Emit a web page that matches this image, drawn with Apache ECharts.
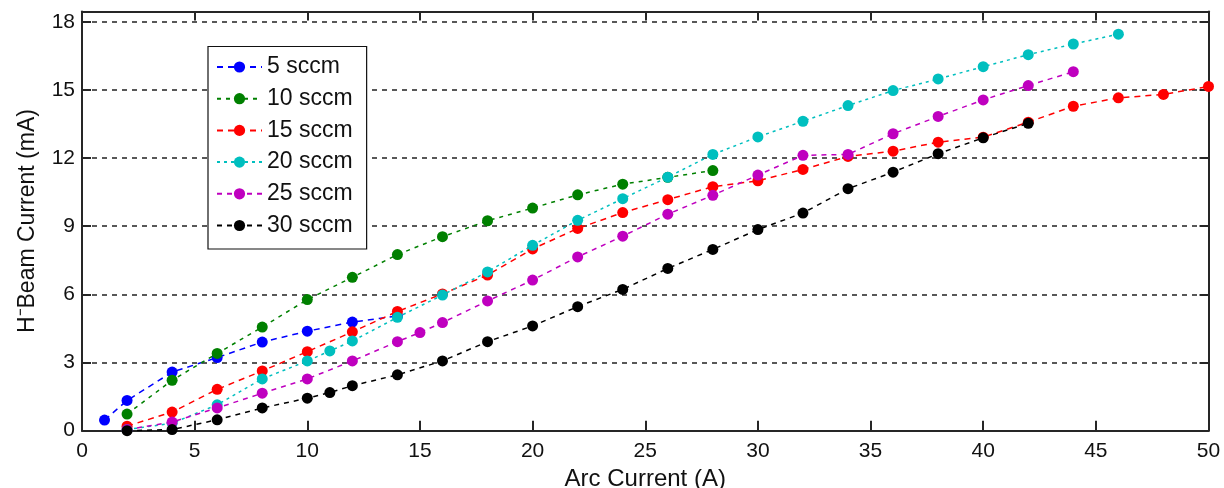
<!DOCTYPE html>
<html>
<head>
<meta charset="utf-8">
<script src="https://cdn.jsdelivr.net/npm/echarts@6/dist/echarts.min.js"></script>
<style>
  html, body { margin: 0; padding: 0; background: #fff; }
  #chart { width: 1224px; height: 488px; }
</style>
</head>
<body>
<div id="chart"></div>
<script>
// Beam current versus arc current for six gas flow rates
const xTicks = [0, 5, 10, 15, 20, 25, 30, 35, 40, 45, 50];
const yTicks = [0, 3, 6, 9, 12, 15, 18];

const x5 = [1, 2, 4, 6, 8, 10, 12, 14];
const y5 = [0.47, 1.33, 2.58, 3.22, 3.9, 4.38, 4.78, 5.05];

const x10 = [2, 4, 6, 8, 10, 12, 14, 16, 18, 20, 22, 24, 26, 28];
const y10 = [0.73, 2.22, 3.4, 4.56, 5.77, 6.75, 7.75, 8.54, 9.24, 9.8, 10.38, 10.85, 11.15, 11.45];

const x15 = [2, 4, 6, 8, 10, 12, 14, 16, 18, 20, 22, 24, 26, 28, 30, 32, 34, 36, 38, 40, 42, 44, 46, 48, 50];
const y15 = [0.2, 0.82, 1.82, 2.63, 3.48, 4.35, 5.25, 6.02, 6.85, 8.0, 8.9, 9.6, 10.17, 10.74, 11.0, 11.5, 12.07, 12.3, 12.7, 12.92, 13.58, 14.28, 14.65, 14.8, 15.15];

const x20 = [2, 4, 6, 8, 10, 11, 12, 14, 16, 18, 20, 22, 24, 26, 28, 30, 32, 34, 36, 38, 40, 42, 44, 46];
const y20 = [0.05, 0.33, 1.14, 2.28, 3.07, 3.51, 3.95, 4.99, 5.97, 6.99, 8.16, 9.26, 10.21, 11.16, 12.16, 12.93, 13.62, 14.31, 14.97, 15.48, 16.02, 16.55, 17.02, 17.45];

const x25 = [2, 4, 6, 8, 10, 12, 14, 15, 16, 18, 20, 22, 24, 26, 28, 30, 32, 34, 36, 38, 40, 42, 44];
const y25 = [0.05, 0.38, 1.0, 1.65, 2.28, 3.07, 3.92, 4.32, 4.76, 5.71, 6.63, 7.65, 8.56, 9.53, 10.36, 11.25, 12.12, 12.16, 13.07, 13.83, 14.56, 15.19, 15.8];

const x30 = [2, 4, 6, 8, 10, 11, 12, 14, 16, 18, 20, 22, 24, 26, 28, 30, 32, 34, 36, 38, 40, 42];
const y30 = [0, 0.05, 0.48, 1.0, 1.43, 1.68, 1.98, 2.46, 3.07, 3.92, 4.61, 5.46, 6.22, 7.14, 7.98, 8.85, 9.58, 10.65, 11.38, 12.19, 12.89, 13.53];

const seriesNames = ['5 sccm', '10 sccm', '15 sccm', '20 sccm', '25 sccm', '30 sccm'];
const seriesColors = ['#0000ff', '#008000', '#ff0000', '#00bfbf', '#bf00bf', '#000000'];
const seriesDash = [[6, 5], [4, 5], [6, 5], [3, 4], [5, 5], [5, 5]];
const xs = [x5, x10, x15, x20, x25, x30];
const ys = [y5, y10, y15, y20, y25, y30];

const FONT = 'Liberation Sans, Arial, sans-serif';
const AXIS_COLOR = '#262626';
const TEXT_COLOR = '#111';

const pair = (xa, ya) => xa.map((v, i) => [v, ya[i]]);

const series = seriesNames.map((name, i) => ({
  name: name,
  type: 'line',
  data: pair(xs[i], ys[i]),
  symbol: 'circle',
  symbolSize: 11,
  showSymbol: true,
  itemStyle: { color: seriesColors[i] },
  lineStyle: { color: seriesColors[i], width: 1.5, type: seriesDash[i] },
  emphasis: { disabled: true },
  z: 3 + i
}));

const axisLineStyle = { color: AXIS_COLOR, width: 2 };

const option = {
  backgroundColor: '#fff',
  animation: false,
  textStyle: { fontFamily: FONT },
  grid: {
    left: 82, right: 15.5, top: 11.5, bottom: 57.3,
    containLabel: false,
    outerBoundsMode: 'none'
  },
  legend: {
    orient: 'vertical',
    left: 208,
    top: 46.5,
    data: seriesNames,
    backgroundColor: '#fff',
    borderColor: '#111',
    borderWidth: 1.2,
    padding: [9, 14, 12, 8],
    itemWidth: 45,
    itemHeight: 14,
    itemGap: 8.7,
    selectedMode: false,
    textStyle: { fontSize: 23, lineHeight: 22, color: TEXT_COLOR, fontFamily: FONT }
  },
  xAxis: [
    {
      type: 'value',
      position: 'bottom',
      min: xTicks[0],
      max: xTicks[xTicks.length - 1],
      interval: xTicks[1] - xTicks[0],
      axisLine: { show: true, onZero: false, lineStyle: axisLineStyle },
      axisTick: { show: true, inside: true, length: 10, lineStyle: axisLineStyle },
      axisLabel: { fontSize: 21, color: TEXT_COLOR, margin: 10, fontFamily: FONT },
      splitLine: { show: false },
      name: 'Arc Current (A)',
      nameLocation: 'middle',
      nameGap: 37,
      nameTextStyle: { fontSize: 24, color: TEXT_COLOR, fontFamily: FONT }
    },
    {
      type: 'value',
      position: 'top',
      min: xTicks[0],
      max: xTicks[xTicks.length - 1],
      interval: xTicks[1] - xTicks[0],
      axisLine: { show: true, onZero: false, lineStyle: axisLineStyle },
      axisTick: { show: true, inside: true, length: 9, lineStyle: axisLineStyle },
      axisLabel: { show: false },
      splitLine: { show: false }
    }
  ],
  yAxis: [
    {
      type: 'value',
      position: 'left',
      min: yTicks[0],
      max: 18.45,
      interval: yTicks[1] - yTicks[0],
      axisLine: { show: true, onZero: false, lineStyle: axisLineStyle },
      axisTick: { show: true, inside: true, length: 9, lineStyle: axisLineStyle },
      axisLabel: {
        fontSize: 21, color: TEXT_COLOR, margin: 7, fontFamily: FONT,
        formatter: v => (yTicks.indexOf(v) >= 0 ? String(v) : '')
      },
      splitLine: { show: true, lineStyle: { color: '#222', width: 1.5, type: [5, 5] } },
      name: 'H\u207BBeam Current (mA)',
      nameLocation: 'middle',
      nameGap: 43,
      nameRotate: 90,
      nameTextStyle: { fontSize: 23, color: TEXT_COLOR, fontFamily: FONT }
    },
    {
      type: 'value',
      position: 'right',
      min: yTicks[0],
      max: 18.45,
      interval: yTicks[1] - yTicks[0],
      axisLine: { show: true, onZero: false, lineStyle: axisLineStyle },
      axisTick: { show: true, inside: true, length: 9, lineStyle: axisLineStyle },
      axisLabel: { show: false },
      splitLine: { show: false }
    }
  ],
  series: series
};

const chart = echarts.init(document.getElementById('chart'), null, { renderer: 'canvas' });
chart.setOption(option);
</script>
</body>
</html>
